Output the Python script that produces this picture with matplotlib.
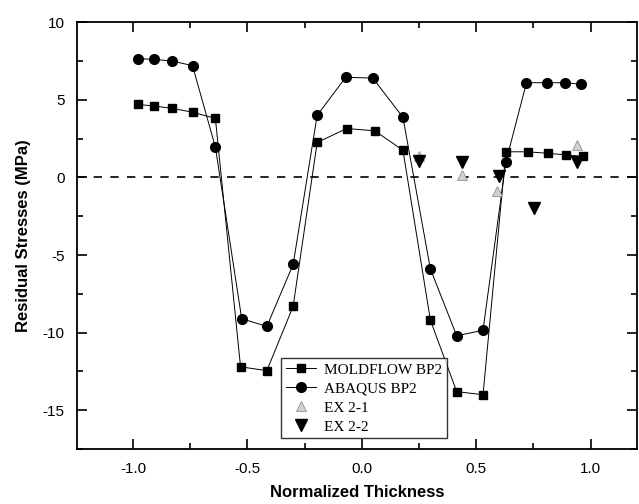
import numpy as np
import matplotlib.pyplot as plt
from matplotlib.ticker import MultipleLocator

# Data
moldflow_x = [-0.978, -0.908, -0.83, -0.74, -0.64, -0.53, -0.415, -0.30, -0.195,
              -0.066, 0.057, 0.18, 0.30, 0.415, 0.53, 0.63, 0.725, 0.815, 0.895, 0.965]
moldflow_y = [4.7, 4.6, 4.45, 4.2, 3.8, -12.2, -12.45, -8.3, 2.25,
              3.15, 3.0, 1.75, -9.2, -13.8, -14.0, 1.65, 1.65, 1.55, 1.45, 1.35]

abaqus_x = [-0.978, -0.908, -0.83, -0.74, -0.64, -0.525, -0.415, -0.30, -0.195,
            -0.07, 0.048, 0.18, 0.30, 0.415, 0.53, 0.63, 0.72, 0.81, 0.89, 0.96]
abaqus_y = [7.65, 7.6, 7.5, 7.2, 1.95, -9.1, -9.6, -5.6, 4.0,
            6.45, 6.4, 3.87, -5.9, -10.2, -9.85, 1.0, 6.1, 6.1, 6.1, 6.0]

ex21_x = [0.25, 0.44, 0.59, 0.94]
ex21_y = [1.4, 0.15, -0.85, 2.1]

ex22_x = [0.25, 0.44, 0.60, 0.755, 0.94]
ex22_y = [1.05, 1.0, 0.1, -1.95, 1.0]

fig = plt.figure(figsize=(6.39, 5.04), dpi=100)
ax = fig.add_axes([0.1205, 0.109, 0.877, 0.847])

# zero reference line
ax.axhline(0, color="black", lw=1.2, ls=(0, (5, 5)), zorder=1)

ax.plot(moldflow_x, moldflow_y, "-s", color="black", lw=0.7, ms=6,
        label="MOLDFLOW BP2", zorder=3)
ax.plot(abaqus_x, abaqus_y, "-o", color="black", lw=0.7, ms=7,
        label="ABAQUS BP2", zorder=3)
ax.plot(ex21_x, ex21_y, "^", ls="none", ms=6.5, markerfacecolor="#d0d0d0",
        markeredgecolor="#909090", markeredgewidth=0.6, label="EX 2-1", zorder=4)
ax.plot(ex22_x, ex22_y, "v", ls="none", ms=8.5, color="black",
        label="EX 2-2", zorder=4)

ax.set_xlim(-1.245, 1.205)
ax.set_ylim(-17.5, 10)

ax.xaxis.set_major_locator(MultipleLocator(0.5))
ax.xaxis.set_minor_locator(MultipleLocator(0.25))
ax.yaxis.set_major_locator(MultipleLocator(5))
ax.yaxis.set_minor_locator(MultipleLocator(2.5))
ax.xaxis.set_major_formatter(plt.FuncFormatter(lambda v, p: f"{v:.1f}"))
ax.yaxis.set_major_formatter(plt.FuncFormatter(lambda v, p: f"{v:.0f}"))

ax.tick_params(which="both", direction="in", top=True, right=True,
               labelsize=11, width=1.2)
ax.tick_params(which="major", length=7, pad=9)
ax.tick_params(which="minor", length=4)
for lab in ax.get_xticklabels() + ax.get_yticklabels():
    lab.set_family("Liberation Sans")
for sp in ax.spines.values():
    sp.set_linewidth(1.3)

ax.set_xlabel("Normalized Thickness", family="Liberation Sans",
              fontweight="bold", fontsize=12, labelpad=7)
ax.set_ylabel("Residual Stresses (MPa)", family="Liberation Sans",
              fontweight="bold", fontsize=12, labelpad=8)

leg = ax.legend(loc="lower left", bbox_to_anchor=(0.345, 0.0),
                prop={"family": "Liberation Serif", "size": 11},
                frameon=True, fancybox=False, edgecolor="black",
                borderpad=0.3, labelspacing=0.35, handlelength=2.0,
                handletextpad=0.5, borderaxespad=0.7)
leg.get_frame().set_linewidth(1.0)

fig.savefig("out.png", dpi=100)
